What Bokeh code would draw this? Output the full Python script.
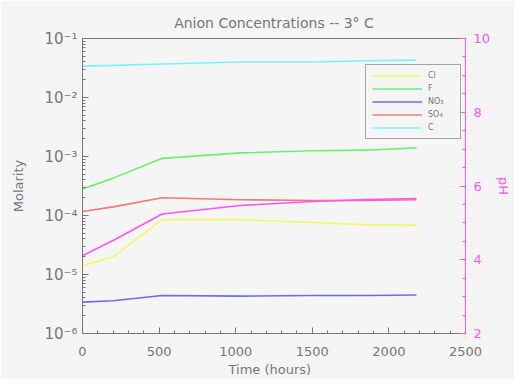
from bokeh.plotting import figure
from bokeh.models import Range1d, LinearAxis, LinearScale, FixedTicker, Legend, LegendItem
from bokeh.embed import file_html
from bokeh.resources import INLINE

# ---- data ----
time = [0, 200, 520, 1030, 1500, 1850, 2180]
cl = [1.4e-5, 2.0e-5, 8.5e-5, 8.5e-5, 7.6e-5, 7.0e-5, 6.8e-5]
fl = [2.8e-4, 4.3e-4, 9.3e-4, 1.15e-3, 1.25e-3, 1.28e-3, 1.4e-3]
no3 = [3.4e-6, 3.6e-6, 4.4e-6, 4.3e-6, 4.4e-6, 4.4e-6, 4.5e-6]
so4 = [1.17e-4, 1.4e-4, 2.0e-4, 1.85e-4, 1.8e-4, 1.8e-4, 1.85e-4]
carb = [0.034, 0.035, 0.037, 0.040, 0.040, 0.042, 0.043]
ph = [4.11, 4.52, 5.24, 5.47, 5.58, 5.63, 5.66]

series_names = ["Cl", "F", "NO\u2083", "SO\u2084", "C"]
series_colors = ["#f5f56a", "#6cf06c", "#6a6af5", "#f57878", "#78f5f5"]
ph_color = "#ff55ff"

x_ticks = [0, 500, 1000, 1500, 2000, 2500]
y_ticks = [1e-6, 1e-5, 1e-4, 1e-3, 1e-2, 1e-1]
y_tick_labels = ["10\u207b\u2076", "10\u207b\u2075", "10\u207b\u2074",
                 "10\u207b\u00b3", "10\u207b\u00b2", "10\u207b\u00b9"]
ph_ticks = [2, 4, 6, 8, 10]

BG = "#f5f5f5"
GREY = "#777777"
FONT = "DejaVu Sans"

p = figure(width=514, height=379, output_backend="svg", toolbar_location=None,
           y_axis_type="log", x_range=Range1d(0, 2500), y_range=Range1d(1e-6, 1e-1),
           min_border_left=82, min_border_right=47, min_border_top=38, min_border_bottom=45,
           background_fill_color=BG, border_fill_color=BG)
p.outline_line_color = GREY
p.grid.visible = False

p.title.text = "Anion Concentrations -- 3\u00b0 C"
p.title.align = "center"
p.title.text_font = FONT
p.title.text_font_style = "normal"
p.title.text_font_size = "14px"
p.title.text_color = GREY
p.title.standoff = 15

p.extra_y_ranges = {"ph": Range1d(2, 10)}
p.extra_y_scales = {"ph": LinearScale()}

def style_axis(ax, color=GREY):
    ax.axis_line_color = color
    ax.major_tick_line_color = color
    ax.minor_tick_line_color = color
    ax.major_tick_in = 6
    ax.major_tick_out = 0
    ax.minor_tick_in = 3
    ax.minor_tick_out = 0
    ax.major_label_text_color = color
    ax.major_label_text_font = FONT
    ax.major_label_text_font_size = "13px"
    ax.axis_label_text_color = color
    ax.axis_label_text_font = FONT
    ax.axis_label_text_font_size = "13px"
    ax.axis_label_text_font_style = "normal"

xa = p.xaxis[0]
style_axis(xa)
xa.ticker = FixedTicker(ticks=x_ticks, minor_ticks=list(range(0, 2501, 100)))
xa.axis_label = "Time   (hours)"
xa.axis_label_standoff = 3
xa.major_label_standoff = 13

ya = p.yaxis[0]
style_axis(ya)
ya.major_label_text_font_size = "15px"
minors = []
for d in y_ticks[:-1]:
    for k in range(2, 10):
        minors.append(d * k)
ya.ticker = FixedTicker(ticks=y_ticks, minor_ticks=minors)
ya.major_label_overrides = {t: s for t, s in zip(y_ticks, y_tick_labels)}
ya.axis_label = "Molarity"
ya.major_label_standoff = 5
ya.axis_label_standoff = 15

right = LinearAxis(y_range_name="ph", axis_label="pH",
                   ticker=FixedTicker(ticks=ph_ticks, minor_ticks=[2 + 0.5 * i for i in range(17)]))
style_axis(right, ph_color)
right.major_label_standoff = 8
right.axis_label_standoff = 3
p.add_layout(right, "right")

data = [cl, fl, no3, so4, carb]
items = []
for name, col, vals in zip(series_names, series_colors, data):
    r = p.line(time, vals, line_color=col, line_width=1.6)
    items.append(LegendItem(label=name, renderers=[r]))

p.line(time, ph, line_color=ph_color, line_width=1.6, y_range_name="ph")

leg = Legend(items=items, location=(283, 194), padding=6, margin=0, spacing=4,
             glyph_width=50, glyph_height=9, label_height=9, label_width=26,
             label_standoff=6, label_text_font=FONT, label_text_font_size="8px",
             label_text_color=GREY, border_line_color="#555555", border_line_width=1.5,
             background_fill_color=BG, background_fill_alpha=1.0)
p.add_layout(leg, "center")

open("out.html", "w").write(file_html(p, INLINE))
